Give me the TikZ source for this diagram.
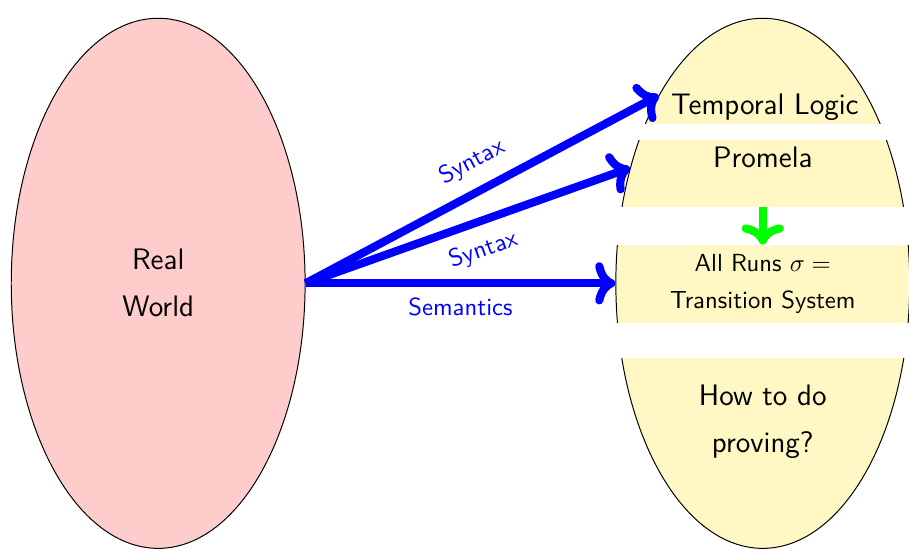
\documentclass[tikz,border=0pt]{standalone}
\usepackage{amsmath}
\usetikzlibrary{shapes.geometric,arrows.meta}
\definecolor{pinkfill}{RGB}{255,204,204}
\definecolor{yellowfill}{RGB}{255,248,196}
\begin{document}
\begin{tikzpicture}
  \tikzstyle{world}=[ellipse,draw,fill=pinkfill,minimum width=4.18cm,minimum height=7.54cm,inner sep=0pt]
  \tikzstyle{conn}=[draw=blue,line width=3.3pt,-{To[scale=0.92]}]
  \tikzstyle{lbl}=[text=blue,font=\sffamily]
  \useasboundingbox (0,0) rectangle (12.93,7.82);
  \node [world,align=center,font=\sffamily\large] (real) at (2.25,3.79) {Real\\[5pt]World};
  \node [world,fill=yellowfill] (model) at (10.85,3.79) {};
  \fill [white] (8.5,5.83) rectangle (13,6.05);
  \fill [white] (8.5,4.34) rectangle (13,4.88);
  \fill [white] (8.5,2.73) rectangle (13,3.23);
  \node [font=\sffamily\large] (logic) at (10.88,6.29) {Temporal Logic};
  \node [font=\sffamily\large] (promela) at (10.85,5.58) {Promela};
  \node [align=center,font=\sffamily,minimum height=1.11cm] (runs) at (10.85,3.78) {All Runs $\sigma=$\\[3pt]Transition System};
  \node [align=center,font=\sffamily\large] (proving) at (10.85,1.82) {How to do\\[5pt]proving?};
  \coordinate (gaptop) at (10.85,4.88);
  \draw [conn] (real.east) -- node [lbl,above=2pt,sloped,pos=0.51] {Syntax} (model.119);
  \draw [conn] (real.east) -- node [lbl,below=2pt,sloped,pos=0.52] {Syntax} (model.139);
  \draw [conn] (real.east) -- node [lbl,below=1pt] {Semantics} (model.west);
  \draw [conn,draw=green] (gaptop) -- (runs.north);
\end{tikzpicture}
\end{document}
